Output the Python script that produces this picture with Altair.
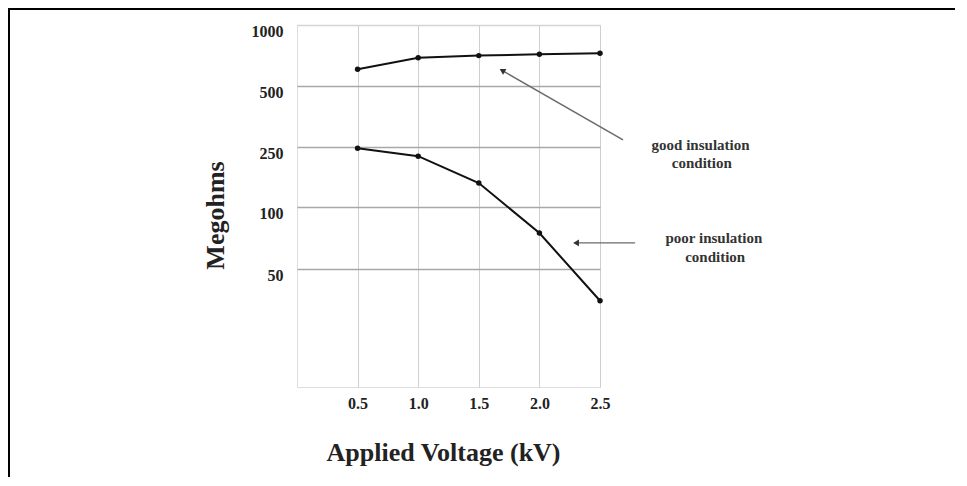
import altair as alt
import pandas as pd

# ---- data ----
voltage = [0.5, 1.0, 1.5, 2.0, 2.5]
good = [637, 732, 749, 760, 768]
poor = [247, 227, 160, 79, 37]

x_ticks = [0.5, 1.0, 1.5, 2.0, 2.5]
y_ticks = [1000, 500, 250, 100, 50]

# the Megohms axis levels are drawn evenly spaced (piecewise scale)
y_levels = [10, 25, 50, 100, 250, 500, 1000]
y_pos = [362, 305, 244, 182, 122, 61, 0]

# annotations (in data units)
arrow_x = [2.69, 2.79]
arrow_y = [279, 71]
arrow_x2 = [1.70, 2.31]
arrow_y2 = [623, 71]
arrow_angle = [300, 270]
arrow_width = [1.5, 1.2]

note_x = [3.33, 3.34, 3.44, 3.45]
note_y = [258, 210, 75, 59.7]
note_text = ["good insulation", "condition", "poor insulation", "condition"]

FONT = "Liberation Serif"
W, H = 303, 362

df = pd.DataFrame({
    "kV": voltage * 2,
    "Megohms": good + poor,
    "series": ["good"] * len(good) + ["poor"] * len(poor),
})
arrows = pd.DataFrame({"x": arrow_x, "y": arrow_y, "x2": arrow_x2, "y2": arrow_y2,
                       "angle": arrow_angle, "w": arrow_width})
notes = pd.DataFrame({"x": note_x, "y": note_y, "t": note_text})

xscale = alt.Scale(domain=[0, 2.5], nice=False, zero=False)
yscale = alt.Scale(type="linear", domain=y_levels, range=y_pos, nice=False, zero=False)

x_axis = alt.Axis(
    values=x_ticks, format=".1f", title="Applied Voltage (kV)",
    grid=True, gridColor="#cfcfcf", gridWidth=1,
    domain=False, ticks=False, tickSize=0,
    labelFont=FONT, labelFontSize=16, labelFontWeight="bold", labelColor="#222",
    labelPadding=21, labelBaseline="alphabetic", labelFlush=False, labelOverlap=False,
    titleFont=FONT, titleFontSize=26, titleFontWeight="bold", titleColor="#222",
    titleX=146, titleY=73, titleBaseline="alphabetic", titleAlign="center",
)
y_axis = alt.Axis(
    values=y_ticks, format="d", title="Megohms",
    grid=True, gridWidth=1.5,
    gridColor=alt.condition("datum.value == 1000", alt.value("#d4d4d4"), alt.value("#a8a8a8")),
    domain=False, ticks=False, tickSize=0,
    labelFont=FONT, labelFontSize=16, labelFontWeight="bold", labelColor="#222",
    labelPadding=14, labelOffset=6, labelBaseline="middle",
    titleFont=FONT, titleFontSize=26, titleFontWeight="bold", titleColor="#222",
    titleX=-82, titleY=190, titleAngle=270, titleAlign="center", titleBaseline="middle",
)

base = alt.Chart(df)
lines = base.mark_line(color="#111", strokeWidth=2).encode(
    x=alt.X("kV:Q", scale=xscale, axis=x_axis),
    y=alt.Y("Megohms:Q", scale=yscale, axis=y_axis),
    detail="series:N",
)
points = base.mark_point(filled=True, size=30, color="#111", opacity=1).encode(
    x=alt.X("kV:Q", scale=xscale),
    y=alt.Y("Megohms:Q", scale=yscale),
)

arrow_lines = alt.Chart(arrows).mark_rule(color="#6a6a6a").encode(
    x=alt.X("x:Q", scale=xscale), y=alt.Y("y:Q", scale=yscale),
    x2="x2:Q", y2="y2:Q",
    strokeWidth=alt.StrokeWidth("w:Q", scale=None),
)
arrow_heads = alt.Chart(arrows).mark_point(shape="triangle", filled=True, size=45,
                                           color="#333", opacity=1).encode(
    x=alt.X("x2:Q", scale=xscale), y=alt.Y("y2:Q", scale=yscale),
    angle=alt.Angle("angle:Q", scale=None),
)

texts = alt.Chart(notes).mark_text(font=FONT, fontSize=15, fontWeight="bold",
                                   color="#333", align="center", baseline="middle").encode(
    x=alt.X("x:Q", scale=xscale), y=alt.Y("y:Q", scale=yscale), text="t:N",
)

frame_df = pd.DataFrame({"k": [0]})
frame_top = alt.Chart(frame_df).mark_rule(color="#000", strokeWidth=2).encode(
    x=alt.value(-288), x2=alt.value(W + 360), y=alt.value(-16),
)
frame_left = alt.Chart(frame_df).mark_rule(color="#000", strokeWidth=2).encode(
    x=alt.value(-288), y=alt.value(-17), y2=alt.value(H + 100),
)

chart = alt.layer(lines, points, arrow_lines, arrow_heads, texts, frame_top, frame_left).properties(
    width=W, height=H,
    autosize=alt.AutoSizeParams(type="none"),
    padding={"left": 289, "top": 17, "right": 355, "bottom": 90},
).configure_view(stroke="#d4d4d4", strokeWidth=1).configure(background="white")

chart.save("out.html", embed_options={"renderer": "svg", "actions": False})
